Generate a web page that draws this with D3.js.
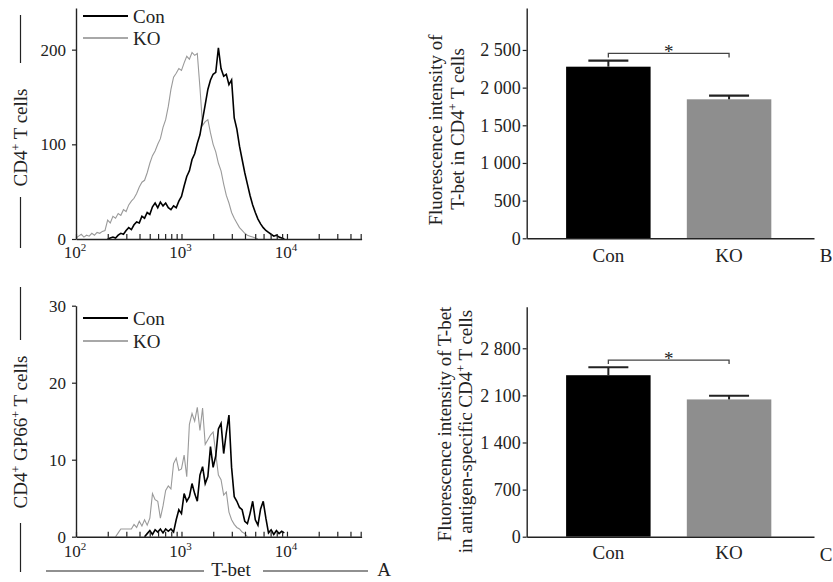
<!DOCTYPE html>
<html>
<head>
<meta charset="utf-8">
<script src="https://cdn.jsdelivr.net/npm/d3@7"></script>
<style>
  body { margin: 0; background: #fff; }
  svg, svg text { font-family: "Liberation Serif", "Times New Roman", Times, "DejaVu Serif", serif; }
</style>
</head>
<body>
<svg id="fig" width="833" height="582"></svg>
<script>
// groups and histogram bins (log10 of T-bet intensity, 0.025 decade per bin, starting at 10^2)
const groups = ["Con", "KO"];
const binStartLog = 2, binStepLog = 0.025;

// panel A top: CD4+ T cells
const conAll = [0, 0, 0, 0, 0, 0, 0, 0, 0, 0, 0, 0, 0,
    1, 2, 1, 4, 6, 5, 9, 12, 10, 15, 18, 17, 24, 22, 28, 26, 34, 38, 33, 39, 35, 38, 33, 31, 35, 33, 40,
    45, 56, 66, 72, 84, 90, 101, 110, 126, 142, 158, 168, 174, 176, 202, 180, 172, 174, 163, 168,
    128, 116, 98, 84, 70, 58, 46, 36, 28, 21, 16, 12, 9, 7, 5, 3, 4, 2, 1, 0];
const koAll = [1, 3, 5, 2, 4, 3, 6, 4, 7, 6, 8, 9, 20, 17, 24, 22, 27, 25, 31, 29,
    36, 40, 43, 48, 55, 60, 62, 70, 80, 88, 93, 100, 106, 118, 126, 140, 158, 171, 175, 180,
    178, 186, 193, 190, 197, 194, 196, 160, 120, 124, 126, 112, 100, 92, 80, 72, 58, 46, 38, 28,
    22, 17, 12, 9, 6, 4, 3, 2, 1, 0, 0, 0, 0, 0, 0, 0, 0, 0, 0, 0];

// panel A bottom: CD4+ GP66+ T cells
const conGp66 = [0, 0, 0, 0, 0, 0, 0, 0, 0, 0, 0, 0, 0, 0, 0, 0, 0, 0, 0, 0, 0, 0, 0, 0, 0, 0, 0,
    0.4, 0.8, 0.3, 0.9, 0.6, 1, 0.5, 1, 0.7, 1, 0.6, 2.2, 3.5,
    3, 5.6, 4.6, 5.2, 6.9, 5.6, 4.6, 8, 9.1, 6.9, 7.8, 11.7, 9, 10.5, 14, 14.7, 10.8, 13.5, 15.8, 9,
    5.2, 4.6, 3.8, 3.5, 2, 1.7, 3, 4.6, 2.2, 1.5, 3.6, 4.6, 2.4, 0.5, 0.9, 0.3, 0.8, 0.4, 0.7, 0.5];
const koGp66 = [0, 0, 0, 0, 0, 0, 0, 0, 0, 0, 0, 0, 0, 0, 0, 0,
    0.5, 1, 1, 1, 1, 1, 1.6, 1.2, 2, 1.4, 2.2, 1.5, 2.4, 5.6, 4.8, 4.6, 2.4, 4, 6, 6.6, 6.2, 9.5, 10.2, 8.6,
    8.8, 10.6, 7.8, 14.6, 16, 15, 16.8, 13.8, 16.7, 12, 12.6, 13.2, 13.6, 10.8, 8, 7.4, 5.4, 5.8, 3.2, 2.2,
    1.6, 1.2, 1, 0.6, 0.4, 0, 0, 0, 0, 0, 0, 0, 0, 0, 0, 0, 0, 0, 0, 0];

// panels B and C: mean fluorescence intensity with error
const mfiAll = [2278, 1845];
const semAll = [80, 48];
const mfiGp66 = [2400, 2040];
const semGp66 = [118, 55];

// tick labels
const histTicksAll = [0, 100, 200];
const histTicksGp66 = [0, 10, 20, 30];
const barTicksAll = [0, 500, 1000, 1500, 2000, 2500];
const barTicksGp66 = [0, 700, 1400, 2100, 2800];
const decades = [1e2, 1e3, 1e4];
const decadeExp = ["2", "3", "4"];

const FONT = "'Liberation Serif', 'Times New Roman', Times, 'DejaVu Serif', serif";
const INK = "#222";
const KO_LINE = "#9a9a9a";
const KO_BAR = "#8e8e8e";
const svg = d3.select("#fig").attr("font-family", FONT);

const fmt = d3.formatLocale({ decimal: ".", thousands: " ", grouping: [3], currency: ["", ""] }).format(",d");

// log x scale shared by both histograms
const xLog = d3.scaleLog().domain([1e2, 5.1e4]).range([76, 361.6]);
const minorTicks = [];
decades.forEach(d => d3.range(1, 10).forEach(k => { if (k * d <= 5.1e4) minorTicks.push(k * d); }));

function styleAxis(g, size) {
    g.attr("font-family", FONT).attr("font-size", size);
    g.select(".domain").attr("stroke", INK).attr("stroke-width", 1.4);
    g.selectAll(".tick line").attr("stroke", INK).attr("stroke-width", 1.2);
    g.selectAll(".tick text").attr("fill", INK).attr("font-family", FONT);
}

function addText(g, x, y, size, str) {
    return g.append("text").attr("x", x).attr("y", y).attr("font-family", FONT)
        .attr("font-size", size).attr("fill", INK).text(str);
}

function trimmed(counts) {
    const pts = counts.map((v, i) => [Math.pow(10, binStartLog + i * binStepLog), v]);
    let a = counts.findIndex(v => v > 0), b = counts.length - 1;
    while (b > 0 && counts[b] === 0) b--;
    return pts.slice(Math.max(0, a - 1), Math.min(pts.length, b + 2));
}

function richLabel(g, tx, ty, parts) {
    const t = g.append("text").attr("transform", `translate(${tx},${ty}) rotate(-90)`)
        .attr("text-anchor", "middle").attr("font-family", FONT).attr("font-size", 19).attr("fill", INK);
    parts.forEach(p => {
        if (p.sup) t.append("tspan").attr("dy", -7).attr("font-size", 12).text(p.text);
        else t.append("tspan").attr("dy", p.after ? 7 : 0).text(p.text);
    });
}

function drawHist(o) {
    const g = svg.append("g");
    const y = d3.scaleLinear().domain([0, o.yMax]).range([o.bottom, o.top]);

    const line = d3.line().x(d => xLog(d[0])).y(d => y(d[1]));
    g.append("path").datum(trimmed(o.ko)).attr("d", line)
        .attr("fill", "none").attr("stroke", KO_LINE).attr("stroke-width", 1.1);
    g.append("path").datum(trimmed(o.con)).attr("d", line)
        .attr("fill", "none").attr("stroke", "#000").attr("stroke-width", 1.6);

    const xa = g.append("g").attr("transform", `translate(0,${o.bottom})`)
        .call(d3.axisBottom(xLog).tickValues(minorTicks).tickSize(-5).tickSizeOuter(0).tickFormat(""));
    styleAxis(xa, 17);
    const ya = g.append("g").attr("transform", "translate(76,0)")
        .call(d3.axisLeft(y).tickValues(o.ticks).tickSize(4).tickSizeOuter(0).tickPadding(6));
    styleAxis(ya, 17);

    // decade labels 10^n
    decades.forEach((d, i) => {
        const t = addText(g, xLog(d) - 1, o.tickLabelY, 17, null).attr("text-anchor", "middle");
        t.append("tspan").text("10");
        t.append("tspan").attr("dy", -7).attr("font-size", 11).text(decadeExp[i]);
    });

    // legend
    groups.forEach((name, i) => {
        g.append("line").attr("x1", 83).attr("x2", 128).attr("y1", o.legendY[i]).attr("y2", o.legendY[i])
            .attr("stroke", i === 0 ? "#000" : "#a8a8a8").attr("stroke-width", 1.8);
        addText(g, 133, o.legendY[i] + 7, 19, name);
    });

    // rotated y label with bars above and below
    richLabel(g, 27, o.labelY, o.label);
    o.labelBars.forEach(b => {
        g.append("line").attr("x1", 20.5).attr("x2", 20.5).attr("y1", b[0]).attr("y2", b[1])
            .attr("stroke", INK).attr("stroke-width", 1.2);
    });
}

function drawBars(o) {
    const g = svg.append("g");
    const y = d3.scaleLinear().domain([0, o.yMax]).range([o.bottom, o.top]);
    const x = d3.scaleBand().domain(groups).range([526.7, 814])
        .paddingInner(0.3).paddingOuter(0.34).align(0.48);

    g.selectAll("rect.bar").data(groups).join("rect").attr("class", "bar")
        .attr("x", d => x(d)).attr("width", x.bandwidth())
        .attr("y", (d, i) => y(o.vals[i])).attr("height", (d, i) => o.bottom - y(o.vals[i]))
        .attr("fill", (d, i) => i === 0 ? "#000" : KO_BAR);

    groups.forEach((d, i) => {
        const cx = x(d) + x.bandwidth() / 2;
        g.append("line").attr("x1", cx).attr("x2", cx)
            .attr("y1", y(o.vals[i])).attr("y2", y(o.vals[i] + o.sems[i]))
            .attr("stroke", INK).attr("stroke-width", 2);
        g.append("line").attr("x1", cx - 20).attr("x2", cx + 20)
            .attr("y1", y(o.vals[i] + o.sems[i])).attr("y2", y(o.vals[i] + o.sems[i]))
            .attr("stroke", INK).attr("stroke-width", 2.2);
    });

    // significance bracket
    const c0 = x(groups[0]) + x.bandwidth() / 2, c1 = x(groups[1]) + x.bandwidth() / 2;
    const by = y(d3.max(o.vals.map((v, i) => v + o.sems[i]))) - 7.2;
    g.append("path").attr("d", `M${c0},${by + 4}V${by}H${c1}V${by + 4}`)
        .attr("fill", "none").attr("stroke", "#444").attr("stroke-width", 1.3);
    addText(g, (c0 + c1) / 2, by + 4.5, 19, "*").attr("text-anchor", "middle");

    const ya = g.append("g").attr("transform", "translate(526.7,0)")
        .call(d3.axisLeft(y).tickValues(o.ticks).tickSize(4).tickSizeOuter(0).tickPadding(2).tickFormat(fmt));
    styleAxis(ya, 18);
    const xa = g.append("g").attr("transform", `translate(0,${o.bottom})`)
        .call(d3.axisBottom(x).tickSize(0).tickPadding(o.catPad));
    styleAxis(xa, 19);

    addText(g, 826, o.bottom + 24, 19, o.letter).attr("text-anchor", "middle");

    o.label.forEach(l => richLabel(g, l.x, l.cy, l.parts));
}

drawHist({
    con: conAll, ko: koAll, yMax: 244, ticks: histTicksAll,
    top: 8, bottom: 239, tickLabelY: 258, legendY: [16, 38],
    label: [{ text: "CD4" }, { text: "+", sup: true }, { text: " T cells", after: true }],
    labelY: 137.5, labelBars: [[15, 63], [197, 248]]
});

drawHist({
    con: conGp66, ko: koGp66, yMax: 30, ticks: histTicksGp66,
    top: 305.7, bottom: 536.7, tickLabelY: 557, legendY: [318, 341],
    label: [{ text: "CD4" }, { text: "+", sup: true }, { text: " GP66", after: true },
        { text: "+", sup: true }, { text: " T cells", after: true }],
    labelY: 432, labelBars: [[287, 340], [523, 572]]
});

// shared x title of panel A
svg.append("line").attr("x1", 46).attr("x2", 204).attr("y1", 571).attr("y2", 571).attr("stroke", INK).attr("stroke-width", 1.2);
svg.append("line").attr("x1", 263).attr("x2", 368).attr("y1", 571).attr("y2", 571).attr("stroke", INK).attr("stroke-width", 1.2);
addText(svg, 231, 576, 19, "T-bet").attr("text-anchor", "middle");
addText(svg, 384, 576, 19, "A").attr("text-anchor", "middle");

drawBars({
    vals: mfiAll, sems: semAll, yMax: 3057, ticks: barTicksAll,
    top: 8, bottom: 238.3, catPad: 10, letter: "B",
    label: [
        { x: 442.3, cy: 130, parts: [{ text: "Fluorescence intensity of" }] },
        { x: 464.3, cy: 129, parts: [{ text: "T-bet in CD4" }, { text: "+", sup: true }, { text: " T cells", after: true }] }
    ]
});

drawBars({
    vals: mfiGp66, sems: semGp66, yMax: 3418, ticks: barTicksGp66,
    top: 306.7, bottom: 536.7, catPad: 9, letter: "C",
    label: [
        { x: 450.7, cy: 424, parts: [{ text: "Fluorescence intensity of T-bet" }] },
        { x: 471.7, cy: 431.5, parts: [{ text: "in antigen-specific CD4" }, { text: "+", sup: true }, { text: " T cells", after: true }] }
    ]
});
</script>
</body>
</html>
